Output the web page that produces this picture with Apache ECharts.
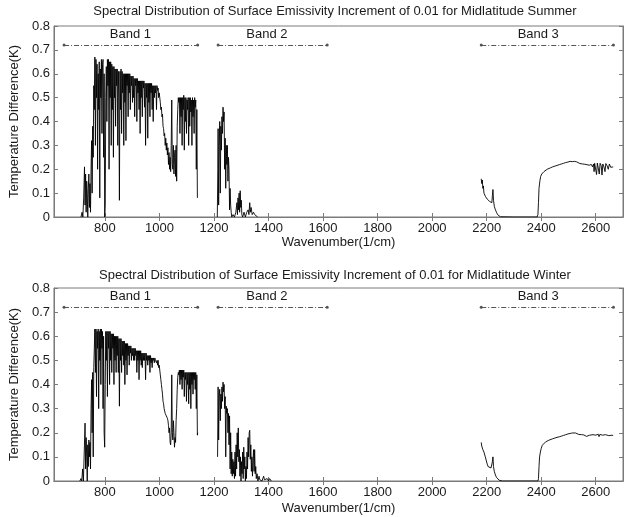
<!DOCTYPE html>
<html>
<head>
<meta charset="utf-8">
<script src="https://cdn.jsdelivr.net/npm/echarts@6/dist/echarts.min.js"></script>
<style>html,body{margin:0;padding:0;background:#fff;}#c{width:626px;height:517px;}</style>
</head>
<body>
<div id="c"></div>
<script>
// ---------- data ----------
const titles = [
  'Spectral Distribution of Surface Emissivity Increment of 0.01 for Midlatitude Summer',
  'Spectral Distribution of Surface Emissivity Increment of 0.01 for Midlatitude Winter'
];
const xName = 'Wavenumber(1/cm)';
const yName = 'Temperature Difference(K)';
const xTicks = [800, 1000, 1200, 1400, 1600, 1800, 2000, 2200, 2400, 2600];
const xMin = 613, xMax = 2700;
const yMin = 0, yMax = 0.8, yStep = 0.1;

const bandNames = ['Band 1', 'Band 2', 'Band 3'];
const bandStart = [650, 1215, 2180];
const bandEnd = [1140, 1615, 2665];
const bandLevel = 0.72;
const bandLabelX = [895, 1396, 2391];
const bandLabelY = 0.762;

const summerBand1 = [[712,0],[716,0.02],[719,0],[722,0.08],[725,0.21],[727,0.05],[729,0.18],[731,0.02],[733,0.15],[735,0.1],[737,0],[739,0.12],[741,0.18],[743,0.04],[745,0.14],[747,0.02],[749,0.2],[751,0.32],[753,0.1],[755,0.38],[757,0.25],[759,0.55],[761,0.45],[763,0.67],[765,0.3],[767,0.66],[769,0.5],[771,0.64],[773,0.2],[775,0.6],[777,0.45],[779,0.65],[781,0.08],[783,0.62],[785,0.5],[787,0.66],[789,0.35],[791,0.64],[793,0.66],[795,0.25],[797,0.6],[799,0],[801,0.05],[803,0.5],[805,0.63],[807,0.4],[809,0.66],[811,0.55],[813,0.66],[815,0.2],[817,0.65],[819,0.5],[821,0.65],[823,0.3],[825,0.64],[827,0.45],[829,0.63],[831,0.25],[833,0.63],[835,0.5],[837,0.62],[839,0.38],[841,0.62],[843,0.55],[845,0.62],[847,0.3],[849,0.61],[851,0.5],[853,0.07],[855,0.61],[857,0.45],[859,0.62],[861,0.35],[863,0.61],[865,0.52],[867,0.6],[869,0.3],[871,0.6],[873,0.48],[875,0.6],[877,0.32],[879,0.6],[881,0.55],[883,0.6],[885,0.42],[887,0.6],[889,0.52],[891,0.6],[893,0.45],[895,0.59],[897,0.55],[899,0.59],[901,0.48],[903,0.59],[905,0.5],[907,0.58],[909,0.42],[911,0.58],[913,0.55],[915,0.58],[917,0.4],[919,0.58],[921,0.52],[923,0.57],[925,0.45],[927,0.57],[929,0.35],[931,0.57],[933,0.5],[935,0.57],[937,0.42],[939,0.57],[941,0.54],[943,0.57],[945,0.46],[947,0.56],[949,0.3],[951,0.56],[953,0.5],[955,0.56],[957,0.33],[959,0.56],[961,0.48],[963,0.56],[965,0.42],[967,0.56],[969,0.52],[971,0.56],[973,0.45],[975,0.55],[977,0.4],[979,0.55],[981,0.5],[983,0.55],[985,0.52],[987,0.55],[989,0.45],[991,0.55],[993,0.53],[995,0.54],[997,0.5],[999,0.52],[1001,0.5],[1003,0.48],[1005,0.45],[1007,0.46],[1009,0.42],[1011,0.43],[1013,0.38],[1015,0.37],[1017,0.34],[1019,0.35],[1021,0.3],[1023,0.33],[1025,0.28],[1027,0.31],[1029,0.26],[1031,0.29],[1033,0.22],[1035,0.27],[1037,0.2],[1039,0.25],[1041,0.19],[1043,0.3],[1045,0.49],[1047,0.22],[1049,0.2],[1051,0.3],[1053,0.18],[1055,0.25],[1057,0.28],[1059,0.17],[1061,0.3],[1063,0.15],[1065,0.38],[1067,0.45],[1069,0.5],[1071,0.48],[1073,0.5],[1075,0.35],[1077,0.5],[1079,0.42],[1081,0.5],[1083,0.3],[1085,0.5],[1087,0.45],[1089,0.51],[1091,0.28],[1093,0.5],[1095,0.4],[1097,0.5],[1099,0.35],[1101,0.49],[1103,0.45],[1105,0.5],[1107,0.3],[1109,0.5],[1111,0.38],[1113,0.5],[1115,0.44],[1117,0.49],[1119,0.3],[1121,0.5],[1123,0.42],[1125,0.49],[1127,0.35],[1129,0.5],[1131,0.46],[1133,0.49],[1135,0.2],[1137,0.45],[1139,0.08],[1140,0.08]];

const summerBand2 = [[1212,0],[1214,0.2],[1215,0.37],[1217,0.05],[1219,0.3],[1221,0.4],[1223,0.1],[1225,0.38],[1227,0.28],[1229,0.42],[1231,0.35],[1233,0.46],[1235,0.4],[1237,0.44],[1239,0.2],[1241,0.33],[1243,0.12],[1245,0.3],[1247,0.22],[1249,0.3],[1251,0.15],[1253,0.25],[1255,0.2],[1257,0.03],[1259,0.12],[1261,0.05],[1263,0.02],[1265,0],[1270,0.01],[1275,0],[1280,0.02],[1284,0.06],[1286,0.01],[1288,0.08],[1290,0.03],[1292,0.1],[1294,0.02],[1296,0.11],[1298,0.04],[1300,0.07],[1302,0.01],[1305,0],[1310,0.02],[1315,0],[1320,0.02],[1325,0.03],[1328,0.01],[1331,0.06],[1333,0.02],[1336,0.04],[1340,0.01],[1345,0.02],[1349,0.01],[1355,0.005],[1360,0]];

const summerBand3 = [[2180,0.16],[2182,0.14],[2184,0.155],[2186,0.12],[2188,0.13],[2190,0.1],[2193,0.1],[2196,0.085],[2199,0.09],[2202,0.075],[2205,0.07],[2208,0.075],[2211,0.065],[2214,0.06],[2217,0.065],[2219,0.06],[2221,0.09],[2223,0.115],[2225,0.07],[2228,0.045],[2232,0.03],[2236,0.02],[2240,0.01],[2245,0.004],[2250,0.001],[2255,0],[2300,0],[2385,0],[2388,0.01],[2390,0.06],[2392,0.12],[2395,0.15],[2398,0.17],[2402,0.18],[2406,0.187],[2410,0.19],[2416,0.195],[2422,0.2],[2428,0.203],[2434,0.206],[2442,0.21],[2450,0.213],[2458,0.216],[2466,0.219],[2474,0.222],[2482,0.225],[2490,0.228],[2498,0.23],[2506,0.233],[2514,0.232],[2522,0.233],[2530,0.231],[2536,0.226],[2542,0.224],[2548,0.22],[2552,0.222],[2556,0.217],[2560,0.221],[2564,0.214],[2568,0.219],[2572,0.213],[2576,0.217],[2580,0.212],[2584,0.22],[2588,0.21],[2592,0.222],[2594,0.19],[2596,0.225],[2600,0.218],[2603,0.178],[2606,0.226],[2610,0.22],[2613,0.18],[2616,0.225],[2620,0.215],[2623,0.176],[2626,0.222],[2630,0.21],[2634,0.19],[2637,0.224],[2642,0.214],[2646,0.2],[2650,0.222],[2655,0.208],[2660,0.215],[2664,0.21]];

const winterBand1 = [[708,0],[712,0.01],[715,0],[718,0.05],[721,0],[724,0.12],[727,0.24],[729,0.05],[731,0.18],[733,0.1],[735,0],[737,0.15],[739,0.06],[741,0.17],[743,0.1],[745,0.16],[747,0.05],[749,0.3],[751,0.42],[753,0.2],[755,0.45],[757,0.1],[759,0.47],[761,0.55],[763,0.63],[765,0.45],[767,0.63],[769,0.35],[771,0.62],[773,0.55],[775,0.63],[777,0.3],[779,0.62],[781,0.5],[783,0.63],[785,0.4],[787,0.63],[789,0.55],[791,0.62],[793,0.3],[795,0.6],[797,0.2],[799,0.14],[801,0.4],[803,0.62],[805,0.5],[807,0.62],[809,0.35],[811,0.62],[813,0.55],[815,0.62],[817,0.4],[819,0.62],[821,0.5],[823,0.61],[825,0.45],[827,0.61],[829,0.55],[831,0.61],[833,0.4],[835,0.6],[837,0.5],[839,0.6],[841,0.45],[843,0.6],[845,0.52],[847,0.6],[849,0.45],[851,0.59],[853,0.31],[855,0.59],[857,0.5],[859,0.59],[861,0.45],[863,0.58],[865,0.52],[867,0.58],[869,0.48],[871,0.58],[873,0.4],[875,0.57],[877,0.5],[879,0.57],[881,0.44],[883,0.57],[885,0.52],[887,0.56],[889,0.48],[891,0.56],[893,0.53],[895,0.56],[897,0.5],[899,0.55],[901,0.52],[903,0.55],[905,0.5],[907,0.55],[909,0.5],[911,0.55],[913,0.52],[915,0.54],[917,0.45],[919,0.54],[921,0.5],[923,0.54],[925,0.42],[927,0.54],[929,0.5],[931,0.54],[933,0.48],[935,0.53],[937,0.47],[939,0.53],[941,0.5],[943,0.53],[945,0.5],[947,0.53],[949,0.42],[951,0.53],[953,0.5],[955,0.52],[957,0.48],[959,0.52],[961,0.5],[963,0.52],[965,0.45],[967,0.52],[969,0.49],[971,0.51],[973,0.47],[975,0.51],[977,0.5],[979,0.51],[981,0.49],[983,0.51],[985,0.5],[987,0.5],[989,0.49],[991,0.5],[993,0.48],[995,0.5],[997,0.47],[999,0.48],[1001,0.46],[1003,0.44],[1005,0.42],[1007,0.4],[1009,0.38],[1011,0.36],[1013,0.33],[1015,0.32],[1017,0.3],[1019,0.29],[1021,0.28],[1023,0.28],[1025,0.27],[1027,0.27],[1029,0.26],[1031,0.25],[1033,0.23],[1035,0.2],[1037,0.22],[1039,0.16],[1041,0.15],[1043,0.2],[1045,0.44],[1047,0.2],[1049,0.17],[1051,0.25],[1053,0.2],[1055,0.14],[1057,0.18],[1059,0.16],[1061,0.25],[1063,0.3],[1065,0.38],[1067,0.43],[1069,0.45],[1071,0.44],[1073,0.46],[1075,0.4],[1077,0.46],[1079,0.42],[1081,0.46],[1083,0.38],[1085,0.46],[1087,0.43],[1089,0.46],[1091,0.35],[1093,0.45],[1095,0.42],[1097,0.45],[1099,0.33],[1101,0.45],[1103,0.4],[1105,0.45],[1107,0.32],[1109,0.45],[1111,0.38],[1113,0.45],[1115,0.3],[1117,0.45],[1119,0.4],[1121,0.45],[1123,0.36],[1125,0.45],[1127,0.42],[1129,0.45],[1131,0.38],[1133,0.45],[1135,0.3],[1137,0.44],[1139,0.19],[1140,0.2]];

const winterBand2 = [[1213,0.1],[1215,0.39],[1217,0.17],[1219,0.35],[1221,0.38],[1223,0.25],[1225,0.36],[1227,0.3],[1229,0.39],[1231,0.33],[1233,0.41],[1235,0.37],[1237,0.4],[1239,0.3],[1241,0.35],[1243,0.1],[1245,0.31],[1247,0.28],[1249,0.3],[1251,0.2],[1253,0.28],[1255,0.15],[1257,0.27],[1259,0.05],[1261,0.2],[1263,0.03],[1265,0.12],[1267,0.02],[1269,0.09],[1271,0.03],[1273,0.08],[1275,0.01],[1277,0.12],[1279,0.02],[1281,0.15],[1283,0.05],[1285,0.2],[1287,0.1],[1289,0.22],[1291,0.08],[1293,0.13],[1295,0.02],[1297,0.1],[1299,0],[1301,0.08],[1303,0.03],[1305,0.12],[1307,0.01],[1309,0.14],[1311,0.05],[1313,0.1],[1315,0],[1317,0.06],[1319,0.01],[1321,0.12],[1323,0.05],[1325,0.18],[1327,0.1],[1329,0.2],[1331,0.21],[1333,0.09],[1335,0.15],[1337,0.04],[1339,0.1],[1341,0.02],[1343,0.08],[1345,0.13],[1347,0.04],[1349,0.13],[1351,0.03],[1353,0.06],[1355,0.01],[1358,0.03],[1361,0],[1365,0.02],[1368,0.005],[1372,0.01],[1376,0],[1382,0.02],[1385,0.005],[1390,0],[1395,0.01],[1400,0],[1404,0.01],[1410,0]];

const winterBand3 = [[2180,0.16],[2182,0.145],[2184,0.15],[2186,0.13],[2188,0.135],[2190,0.12],[2192,0.125],[2195,0.1],[2198,0.095],[2200,0.105],[2202,0.07],[2205,0.06],[2208,0.058],[2212,0.055],[2216,0.054],[2219,0.05],[2221,0.08],[2223,0.1],[2225,0.06],[2228,0.04],[2232,0.025],[2236,0.015],[2240,0.008],[2246,0.003],[2252,0.001],[2258,0],[2300,0],[2388,0],[2390,0.01],[2392,0.06],[2394,0.1],[2397,0.12],[2400,0.135],[2404,0.148],[2410,0.156],[2416,0.162],[2422,0.166],[2428,0.169],[2434,0.172],[2442,0.175],[2450,0.178],[2458,0.181],[2466,0.183],[2474,0.186],[2482,0.189],[2490,0.192],[2498,0.195],[2506,0.197],[2514,0.199],[2520,0.2],[2526,0.199],[2532,0.197],[2538,0.193],[2544,0.19],[2548,0.192],[2552,0.188],[2556,0.191],[2560,0.186],[2566,0.185],[2572,0.189],[2578,0.19],[2584,0.186],[2590,0.192],[2596,0.195],[2600,0.19],[2603,0.196],[2606,0.186],[2609,0.194],[2612,0.184],[2615,0.193],[2618,0.185],[2621,0.192],[2625,0.19],[2630,0.193],[2636,0.192],[2642,0.19],[2648,0.188],[2654,0.192],[2660,0.19],[2664,0.188]];

const panels = [
  { title: titles[0], bands: [summerBand1, summerBand2, summerBand3] },
  { title: titles[1], bands: [winterBand1, winterBand2, winterBand3] }
];

// ---------- layout / style ----------
const FONT = '"Liberation Sans", Arial, Helvetica, sans-serif';
const gridPos = [ {left: 47, top: 26, width: 576, height: 191}, {left: 47, top: 288, width: 576, height: 193} ];
const titleY = [11, 275];
const xNameGap = [19, 21];
const boxColor = '#7a7a7a';
const textColor = '#1a1a1a';

const chart = echarts.init(document.getElementById('c'), null, {renderer: 'canvas'});

const grids = [], xAxes = [], yAxes = [], series = [], graphics = [];

panels.forEach((p, i) => {
  grids.push(Object.assign({show: true, borderColor: boxColor, borderWidth: 1, backgroundColor: '#fff'}, gridPos[i]));
  xAxes.push({
    type: 'value', gridIndex: i, min: xMin, max: xMax, position: 'bottom',
    name: xName, nameLocation: 'middle', nameGap: xNameGap[i],
    nameTextStyle: {fontFamily: FONT, fontSize: 13, color: textColor},
    axisLine: {show: true, onZero: false, lineStyle: {color: boxColor}},
    axisTick: {show: true, inside: true, length: 4, customValues: xTicks, lineStyle: {color: boxColor}},
    axisLabel: {show: true, customValues: xTicks, margin: 5, fontFamily: FONT, fontSize: 13, color: textColor,
      formatter: (v) => String(v)},
    splitLine: {show: false}
  });
  xAxes.push({
    type: 'value', gridIndex: i, min: xMin, max: xMax, position: 'top',
    axisLine: {show: true, lineStyle: {color: boxColor}},
    axisTick: {show: true, inside: true, length: 4, customValues: xTicks, lineStyle: {color: boxColor}},
    axisLabel: {show: false, customValues: xTicks},
    splitLine: {show: false}
  });
  yAxes.push({
    type: 'value', gridIndex: i, min: yMin, max: yMax, interval: yStep, position: 'left',
    name: yName, nameLocation: 'middle', nameGap: 28, nameRotate: 90,
    nameTextStyle: {fontFamily: FONT, fontSize: 13, color: textColor},
    axisLine: {show: true, lineStyle: {color: boxColor}},
    axisTick: {show: true, inside: true, length: 4, lineStyle: {color: boxColor}},
    axisLabel: {show: true, margin: 4, fontFamily: FONT, fontSize: 13, color: textColor,
      formatter: (v) => String(Math.round(v * 10) / 10)},
    splitLine: {show: false}
  });
  yAxes.push({
    type: 'value', gridIndex: i, min: yMin, max: yMax, interval: yStep, position: 'right',
    axisLine: {show: true, lineStyle: {color: boxColor}},
    axisTick: {show: true, inside: true, length: 4, lineStyle: {color: boxColor}},
    axisLabel: {show: false},
    splitLine: {show: false}
  });
  const xi = i * 2, yi = i * 2;
  p.bands.forEach((b) => {
    series.push({
      type: 'line', xAxisIndex: xi, yAxisIndex: yi, data: b,
      showSymbol: false, symbol: 'none',
      lineStyle: {color: '#000', width: 0.9}, silent: true, z: 3
    });
  });
  series.push({
    type: 'line', xAxisIndex: xi, yAxisIndex: yi, data: [], silent: true,
    markLine: {
      silent: true, symbol: ['circle', 'circle'], symbolSize: 3, animation: false,
      lineStyle: {color: '#555', width: 1, type: [5, 2, 1, 2]},
      label: {show: false},
      data: bandStart.map((s, k) => [{coord: [s, bandLevel]}, {coord: [bandEnd[k], bandLevel]}])
    }
  });
  series.push({
    type: 'scatter', xAxisIndex: xi, yAxisIndex: yi, silent: true,
    symbolSize: 1, itemStyle: {color: 'rgba(0,0,0,0)'},
    data: bandLabelX.map((x, k) => ({value: [x, bandLabelY], name: bandNames[k]})),
    label: {show: true, position: [0, 0], align: 'center', verticalAlign: 'middle',
      formatter: (d) => d.name, fontFamily: FONT, fontSize: 13, color: textColor,
      textBorderWidth: 0, opacity: 1},
    z: 5
  });
  graphics.push({
    type: 'text', x: 335, y: titleY[i],
    style: {text: p.title, fill: textColor, font: '13px ' + FONT, textAlign: 'center', textVerticalAlign: 'middle'}
  });
});

chart.setOption({
  animation: false,
  backgroundColor: '#fff',
  grid: grids, xAxis: xAxes, yAxis: yAxes, series: series,
  graphic: graphics
});
</script>
</body>
</html>
